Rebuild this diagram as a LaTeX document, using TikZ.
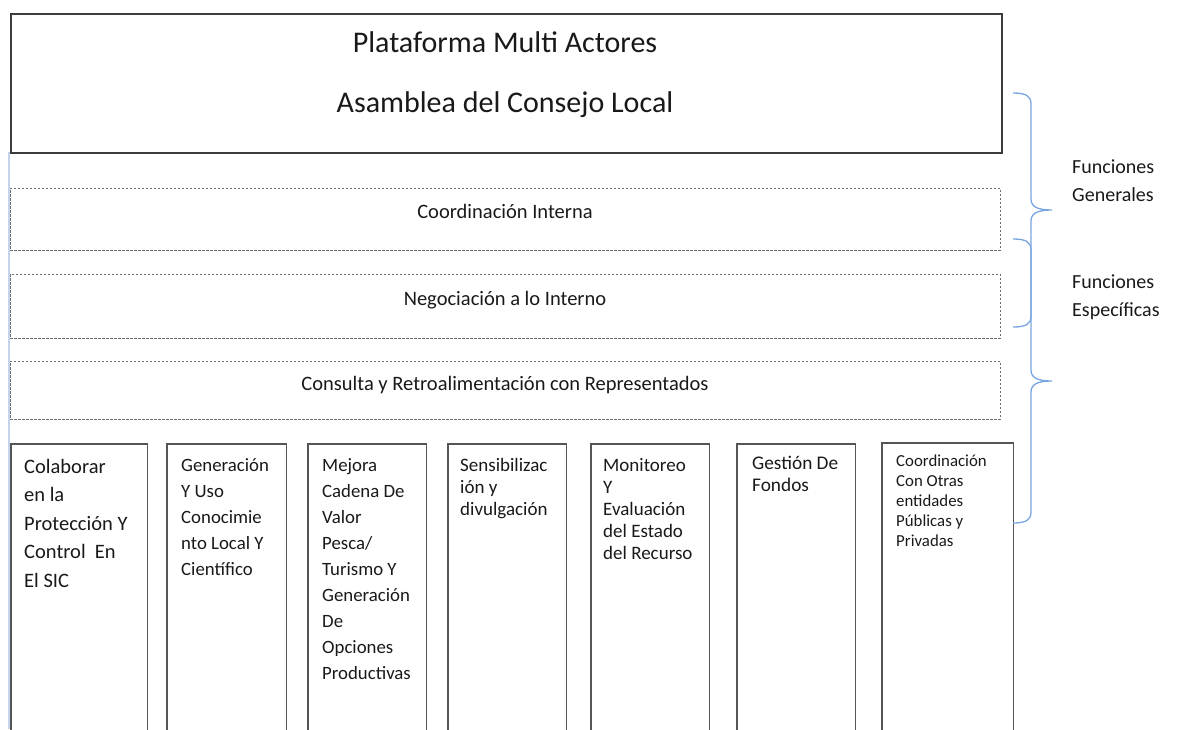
\documentclass[tikz,border=0pt]{standalone}
\usepackage{fontspec}
\setmainfont{Carlito}
\definecolor{boxline}{RGB}{60,60,60}
\definecolor{colline}{RGB}{85,85,85}
\definecolor{dashline}{RGB}{110,110,110}
\definecolor{bracecol}{RGB}{120,165,225}
\definecolor{leftline}{RGB}{195,212,235}
\definecolor{txt}{RGB}{25,25,25}
\newcommand{\colfont}[2]{\fontsize{#1}{#2}\selectfont\lineskiplimit=-30pt\lineskip=0pt}
\newcommand{\coltext}[1]{\parbox[t]{140pt}{\raggedright #1}}
\begin{document}
\begin{tikzpicture}[x=1pt,y=-1pt,
  topbox/.style={draw=boxline,line width=1.8pt,minimum width=991pt,minimum height=139pt,inner sep=0,anchor=north west},
  dashbox/.style={draw=dashline,line width=0.8pt,dash pattern=on 2.5pt off 1.5pt,minimum width=990pt,inner sep=0,anchor=north west},
  colnode/.style={inner sep=0,anchor=north west,minimum height=295pt},
  colside/.style={draw=colline,line width=1.2pt},
  coltxt/.style={inner sep=0,anchor=base west,text=txt},
  brace/.style={draw=bracecol,line width=1.3pt},
  label/.style={inner sep=0,anchor=base west,text=txt,font=\colfont{20}{28}},
  every node/.style={text=txt}]
\useasboundingbox (0,0) rectangle (1180,729);
\draw[leftline,line width=2pt] (9,152) -- (9,729);
% top box
\node[topbox] (top) at (10,13) {};
\node[inner sep=0,anchor=base,font=\fontsize{30}{36}\selectfont] (t1) at (505,52) {Plataforma Multi Actores};
\node[inner sep=0,anchor=base,font=\fontsize{30}{36}\selectfont] (t2) at (505,112) {Asamblea del Consejo Local};
% dashed boxes
\node[dashbox,minimum height=62pt] (d1) at (10,188) {};
\node[dashbox,minimum height=64pt] (d2) at (10,274) {};
\node[dashbox,minimum height=58pt] (d3) at (10,361) {};
\node[inner sep=0,anchor=base,font=\fontsize{20.5}{24}\selectfont] (d1t) at (505,218) {Coordinación Interna};
\node[inner sep=0,anchor=base,font=\fontsize{20.5}{24}\selectfont] (d2t) at (505,305) {Negociación a lo Interno};
\node[inner sep=0,anchor=base,font=\fontsize{20.5}{24}\selectfont] (d3t) at (505,390) {Consulta y Retroalimentación con Representados};
% columns
\node[colnode,minimum width=136pt] (c1) at (11,444) {};
\node[colnode,minimum width=119pt] (c2) at (167,444) {};
\node[colnode,minimum width=118pt] (c3) at (308,444) {};
\node[colnode,minimum width=118pt] (c4) at (448,444) {};
\node[colnode,minimum width=118pt] (c5) at (591,444) {};
\node[colnode,minimum width=118pt] (c6) at (737,444) {};
\node[colnode,minimum width=131pt] (c7) at (882,443) {};
\foreach \c in {c1,c2,c3,c4,c5,c6,c7}
  \draw[colside] (\c.south west) |- (\c.north east) -- (\c.south east);
\node[coltxt,font=\colfont{20.5}{28.5}] (c1t) at (24,473) {\coltext{Colaborar\\en la\\Protección Y\\Control~ En\\El SIC}};
\node[coltxt,font=\colfont{18.8}{26}] (c2t) at (181,471) {\coltext{Generación\\Y Uso\\Conocimie\\nto Local Y\\Científico}};
\node[coltxt,font=\colfont{18.8}{26.1}] (c3t) at (322,471) {\coltext{Mejora\\Cadena De\\Valor\\Pesca/\\Turismo Y\\Generación\\De\\Opciones\\Productivas}};
\node[coltxt,font=\colfont{19}{22}] (c4t) at (460,471) {\coltext{Sensibilizac\\ión y\\divulgación}};
\node[coltxt,font=\colfont{19}{22}] (c5t) at (603,471) {\coltext{Monitoreo\\Y\\Evaluación\\del Estado\\del Recurso}};
\node[coltxt,font=\colfont{19.3}{22.5}] (c6t) at (752,469) {\coltext{Gestión De\\Fondos}};
\node[coltxt,font=\colfont{16.8}{20}] (c7t) at (896,466) {\coltext{Coordinación\\Con Otras\\entidades\\Públicas y\\Privadas}};
% braces
\coordinate (bAtop) at (1013,93);
\coordinate (bAtip) at (1052,210);
\coordinate (bAbot) at (1013,327);
\coordinate (bBtop) at (1013,239);
\coordinate (bBtip) at (1052,381);
\coordinate (bBbot) at (1013,523);
\draw[brace] (bAtop) .. controls (1026,93) and (1031,96) .. (1031,104) -- (1031,199)
  .. controls (1031,207) and (1038,210) .. (bAtip)
  .. controls (1038,210) and (1031,213) .. (1031,221) -- (1031,316)
  .. controls (1031,324) and (1026,327) .. (bAbot);
\draw[brace] (bBtop) .. controls (1026,239) and (1031,242) .. (1031,250) -- (1031,370)
  .. controls (1031,378) and (1038,381) .. (bBtip)
  .. controls (1038,381) and (1031,384) .. (1031,392) -- (1031,512)
  .. controls (1031,520) and (1026,523) .. (bBbot);
\node[label] (lg) at (1072,173) {\parbox[t]{110pt}{\raggedright Funciones\\Generales}};
\node[label] (le) at (1072,288) {\parbox[t]{110pt}{\raggedright Funciones\\Específicas}};
\end{tikzpicture}
\end{document}
